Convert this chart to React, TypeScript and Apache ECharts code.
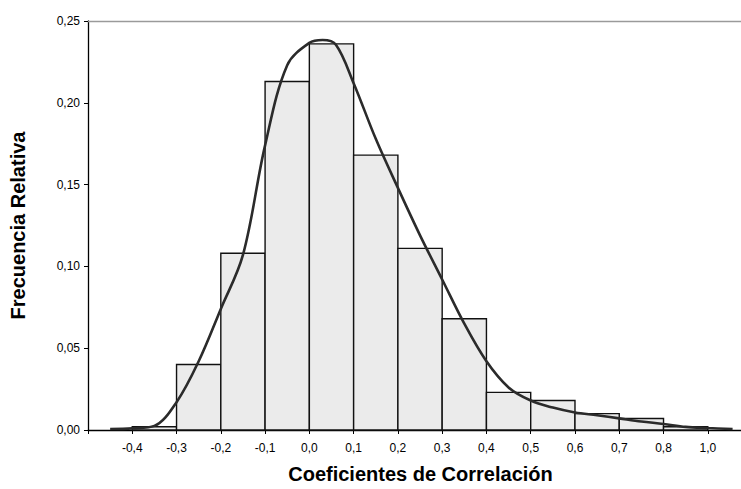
import React, { useEffect, useRef } from "react";
import * as echarts from "echarts";

// Tick labels at bin boundaries (as printed on the original axis)
const binLabels = ["-0,4", "-0,3", "-0,2", "-0,1", "0,0", "0,1", "0,2", "0,3", "0,4", "0,5", "0,6", "0,7", "0,8", "1,0"];
// Relative frequency of each bin (bin i lies between binLabels[i] and binLabels[i+1])
const barValues = [0.002, 0.04, 0.108, 0.213, 0.236, 0.168, 0.111, 0.068, 0.023, 0.018, 0.010, 0.007, 0.002];
// Fitted density curve: position in bin widths from the "-0,4" boundary, and value
const curvePos = [-0.5, 0, 0.5, 1.0, 1.5, 2.0, 2.5, 3.0, 3.5, 4.0, 4.3, 4.6, 5.0, 5.5, 6.0, 6.5, 7.0, 7.5, 8.0, 8.5, 9.0, 9.5, 10.0, 10.5, 11.0, 11.5, 12.0, 12.5, 13.0, 13.56];
const curveVal = [0.0006, 0.001, 0.0025, 0.017, 0.042, 0.074, 0.107, 0.174, 0.223, 0.2366, 0.2384, 0.2355, 0.212, 0.178, 0.148, 0.119, 0.092, 0.065, 0.042, 0.026, 0.018, 0.0137, 0.0107, 0.009, 0.0071, 0.0052, 0.0037, 0.0019, 0.0012, 0.0006];

const FONT = "'Liberation Sans', Arial, sans-serif";

export default function App() {
  const ref = useRef<HTMLDivElement>(null);
  useEffect(() => {
    if (!ref.current) return;
    const chart = echarts.init(ref.current, undefined, { renderer: "svg" });
    const xMin = -1;
    const xMax = 13.75;
    chart.setOption({
      animation: false,
      backgroundColor: "#ffffff",
      grid: { left: 83, right: 0, top: 21, bottom: 58 },
      xAxis: [
        {
          type: "value",
          min: xMin,
          max: xMax,
          interval: 1,
          name: "Coeficientes de Correlación",
          nameLocation: "middle",
          nameGap: 34,
          nameTextStyle: { fontFamily: FONT, fontSize: 20, fontWeight: "bold", color: "#000", padding: [0, 0, 0, 12] },
          axisLine: { show: true, onZero: false, lineStyle: { color: "#000", width: 1.3 } },
          axisTick: { show: true, length: 4, lineStyle: { color: "#000" } },
          splitLine: { show: false },
          axisLabel: {
            margin: 12,
            fontFamily: FONT,
            fontSize: 12,
            color: "#000",
            showMaxLabel: false,
            formatter: (v: number) => {
              const i = Math.round(v);
              if (Math.abs(v - i) > 1e-6 || i < 0 || i >= binLabels.length) return "";
              return binLabels[i];
            },
          },
        },
        {
          type: "value",
          position: "top",
          min: xMin,
          max: xMax,
          axisLine: { show: true, onZero: false, lineStyle: { color: "#9a9a9a", width: 1.3 } },
          axisTick: { show: false },
          axisLabel: { show: false },
          splitLine: { show: false },
        },
      ],
      yAxis: {
        type: "value",
        min: 0,
        max: 0.25,
        interval: 0.05,
        name: "Frecuencia Relativa",
        nameLocation: "middle",
        nameGap: 60,
        nameTextStyle: { fontFamily: FONT, fontSize: 20, fontWeight: "bold", color: "#000" },
        axisLine: { show: true, onZero: false, lineStyle: { color: "#000", width: 1.3 } },
        axisTick: { show: true, length: 4, lineStyle: { color: "#000" } },
        splitLine: { show: false },
        axisLabel: {
          margin: 8,
          fontFamily: FONT,
          fontSize: 12,
          color: "#000",
          formatter: (v: number) => v.toFixed(2).replace(".", ","),
        },
      },
      series: [
        {
          type: "custom",
          xAxisIndex: 0,
          z: 2,
          data: barValues.map((v, i) => [i, v]),
          renderItem: (params: any, api: any) => {
            const i = api.value(0);
            const v = api.value(1);
            const p0 = api.coord([i, v]);
            const p1 = api.coord([i + 1, 0]);
            return {
              type: "rect",
              shape: { x: p0[0], y: p0[1], width: p1[0] - p0[0], height: p1[1] - p0[1] },
              style: { fill: "#ebebeb", stroke: "#111", lineWidth: 1.4 },
            };
          },
        },
        {
          type: "line",
          xAxisIndex: 0,
          z: 5,
          smooth: 0.35,
          showSymbol: false,
          symbol: "none",
          lineStyle: { color: "#2b2b2b", width: 2.6 },
          data: curvePos.map((x, i) => [x, curveVal[i]]),
        },
      ],
    });
    return () => chart.dispose();
  }, []);
  return <div ref={ref} style={{ position: "fixed", left: 0, top: 0, width: 741, height: 489 }} />;
}
